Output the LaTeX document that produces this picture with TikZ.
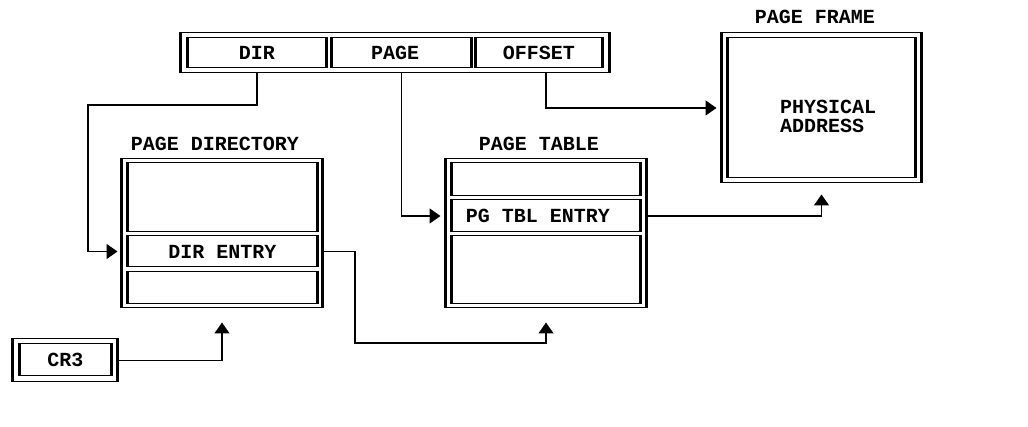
\documentclass[tikz,border=0pt]{standalone}
\usepackage{fontspec}
\setmainfont{Liberation Mono}
\usetikzlibrary{arrows.meta}
\begin{document}
\begin{tikzpicture}[x=1pt,y=-1pt,
  vert/.style={draw,line width=2.3pt},
  frame/.style={draw,line width=1pt,inner sep=0pt,
    append after command={(\tikzlastnode.north west) edge[vert] (\tikzlastnode.south west)
                          (\tikzlastnode.north east) edge[vert] (\tikzlastnode.south east)}},
  lbl/.style={font=\fontsize{20}{19}\selectfont\bfseries,inner sep=0pt},
  conn/.style={line width=1.4pt,-{Triangle[length=11pt,width=15pt]}}
]
\useasboundingbox (0,0) rectangle (1028,427);

% linear address
\node[frame,minimum width=428,minimum height=40] (bar) at (395,53) {};
\node[frame,lbl,minimum width=138,minimum height=30] (dir) at (257,53) {DIR};
\node[frame,lbl,minimum width=139,minimum height=30] (page) at (401.5,53) {};
\node[lbl] (pagetxt) at (395,53) {PAGE};
\node[frame,lbl,minimum width=126,minimum height=30] (offset) at (539,53) {OFFSET};

% page directory
\node[lbl] (pdt) at (215,144) {PAGE DIRECTORY};
\node[frame,minimum width=200,minimum height=149] (pd) at (222,233.5) {};
\node[frame,minimum width=189,minimum height=69] (pd1) at (222.5,197.5) {};
\node[frame,lbl,minimum width=189,minimum height=31] (pd2) at (222.5,251.5) {DIR ENTRY};
\node[frame,minimum width=189,minimum height=32] (pd3) at (222.5,288) {};

% page table
\node[lbl] (ptt) at (539,143.5) {PAGE TABLE};
\node[frame,minimum width=200,minimum height=149] (pt) at (546,233.5) {};
\node[frame,minimum width=188,minimum height=33] (pt1) at (546,179.5) {};
\node[frame,minimum width=188,minimum height=32] (pt2) at (546,216) {};
\node[lbl] (pt2t) at (538,216) {PG TBL ENTRY};
\node[frame,minimum width=188,minimum height=68] (pt3) at (546,270) {};

% page frame
\node[lbl] (pft) at (815,17) {PAGE FRAME};
\node[frame,minimum width=199,minimum height=150] (pf) at (821.5,108) {};
\node[frame,minimum width=187,minimum height=140] (pfi) at (821.5,108) {};
\node[lbl,align=left] (pa) at (828,116.5) {PHYSICAL\\ADDRESS};

% CR3
\node[frame,minimum width=104,minimum height=43] (cr3o) at (65,360.5) {};
\node[frame,lbl,minimum width=91,minimum height=32] (cr3) at (65.5,360) {CR3};

% connectors
\coordinate (offdrop) at ([xshift=7pt]offset.south);
\draw[conn] (dir.south |- bar.south) |- (88,105) |- ([xshift=-4pt]pd.west |- pd2.center);
\draw[conn] (page.south |- bar.south) |- ([xshift=-5pt]pt.west |- pt2.center);
\draw[conn] (offdrop |- bar.south) |- ([xshift=-5pt]pf.west);
\draw[conn] (pd.east |- pd2.center) -| (355,343) -| ([yshift=-14pt]pt.south);
\draw[conn] (pt.east |- pt2.center) -| ([yshift=-11pt]pf.south);
\draw[conn] (cr3o.east) -| ([yshift=-14pt]pd.south);
\end{tikzpicture}
\end{document}
